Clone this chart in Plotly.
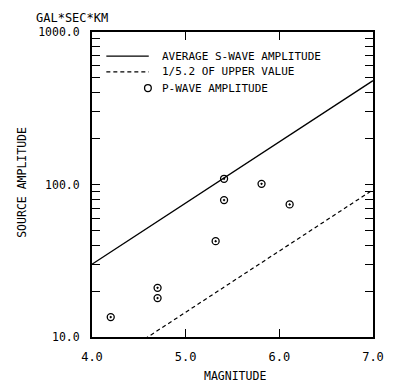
import numpy as np
import plotly.graph_objects as go

# Data
line_mag = [4.0, 7.0]
avg_s_amp = [30.0, 480.0]          # average S-wave amplitude line
ratio = 5.2                         # lower line = upper / 5.2
p_mag = [4.2, 4.7, 4.7, 5.32, 5.41, 5.41, 5.81, 6.11]
p_amp = [13.5, 21.0, 18.0, 42.5, 109.0, 79.0, 101.0, 74.0]

y_tickvals = [v * d for d in (10, 100) for v in range(1, 10)] + [1000]
y_ticktext = ["10.0" if v == 10 else "100.0" if v == 100 else "1000.0" if v == 1000 else "" for v in y_tickvals]
x_tickvals = [4, 5, 6, 7]
x_ticktext = ["4.0", "5.0", "6.0", "7.0"]
legend_labels = ["AVERAGE S-WAVE AMPLITUDE", "1/5.2 OF UPPER VALUE", "P-WAVE AMPLITUDE"]

lower_amp = [a / ratio for a in avg_s_amp]

FONT = "DejaVu Sans Mono"
PW, PH = 292, 305  # plot area size in px

fig = go.Figure()
fig.add_trace(go.Scatter(x=line_mag, y=avg_s_amp, mode="lines",
                         line=dict(color="black", width=1.3), showlegend=False,
                         name=legend_labels[0]))
fig.add_trace(go.Scatter(x=line_mag, y=lower_amp, mode="lines",
                         line=dict(color="black", width=1.2, dash="4px,3px"), showlegend=False,
                         name=legend_labels[1]))
fig.add_trace(go.Scatter(x=p_mag, y=p_amp, mode="markers", showlegend=False,
                         marker=dict(symbol="circle-open-dot", size=7, color="black",
                                     line=dict(width=1.3, color="black")),
                         name=legend_labels[2]))

# Hand-built legend (layout elements in paper coordinates)
rows_y = [0.921, 0.869, 0.816]
lx0, lx1, tx = 0.051, 0.202, 0.243
shapes = [
    dict(type="line", xref="paper", yref="paper", x0=lx0, x1=lx1, y0=rows_y[0], y1=rows_y[0],
         line=dict(color="black", width=1.3)),
    dict(type="line", xref="paper", yref="paper", x0=lx0, x1=lx1, y0=rows_y[1], y1=rows_y[1],
         line=dict(color="black", width=1.2, dash="4px,3px")),
    dict(type="circle", xref="paper", yref="paper",
         x0=0.199 - 3.5 / PW, x1=0.199 + 3.5 / PW, y0=rows_y[2] - 3.5 / PH, y1=rows_y[2] + 3.5 / PH,
         line=dict(color="black", width=1.3)),
]
annotations = [dict(text=t, xref="paper", yref="paper", x=tx, y=yy, xanchor="left", yanchor="middle",
                    showarrow=False, font=dict(family=FONT, size=11))
               for t, yy in zip(legend_labels, rows_y)]
annotations += [
    dict(text="GAL*SEC*KM", xref="paper", yref="paper", x=-0.205, y=1.018,
         xanchor="left", yanchor="bottom", showarrow=False, font=dict(family=FONT, size=12)),
    dict(text="MAGNITUDE", xref="paper", yref="paper", x=0.51, y=-0.128,
         xanchor="center", yanchor="middle", showarrow=False, font=dict(family=FONT, size=11.5)),
    dict(text="SOURCE AMPLITUDE", xref="paper", yref="paper", x=-0.25, y=0.508,
         xanchor="center", yanchor="middle", textangle=-90, showarrow=False,
         font=dict(family=FONT, size=11.5)),
]

fig.update_layout(
    width=393, height=385,
    margin=dict(l=92, r=9, t=32, b=48),
    paper_bgcolor="white", plot_bgcolor="white",
    font=dict(family=FONT, size=11, color="black"),
    showlegend=False,
    shapes=shapes,
    annotations=annotations,
    xaxis=dict(range=[4, 7], tickvals=x_tickvals, ticktext=x_ticktext,
               ticks="inside", ticklen=8, tickwidth=1.2, tickcolor="black",
               showline=True, linecolor="black", linewidth=2, mirror="allticks",
               showgrid=False, zeroline=False, ticklabelstandoff=8,
               tickfont=dict(family=FONT, size=12)),
    yaxis=dict(type="log", range=[1, 3], tickvals=y_tickvals, ticktext=y_ticktext,
               ticks="inside", ticklen=8, tickwidth=1.2, tickcolor="black",
               showline=True, linecolor="black", linewidth=2, mirror="allticks",
               showgrid=False, zeroline=False, ticklabelstandoff=8,
               tickfont=dict(family=FONT, size=11.5)),
)

fig.write_html("out.html")
